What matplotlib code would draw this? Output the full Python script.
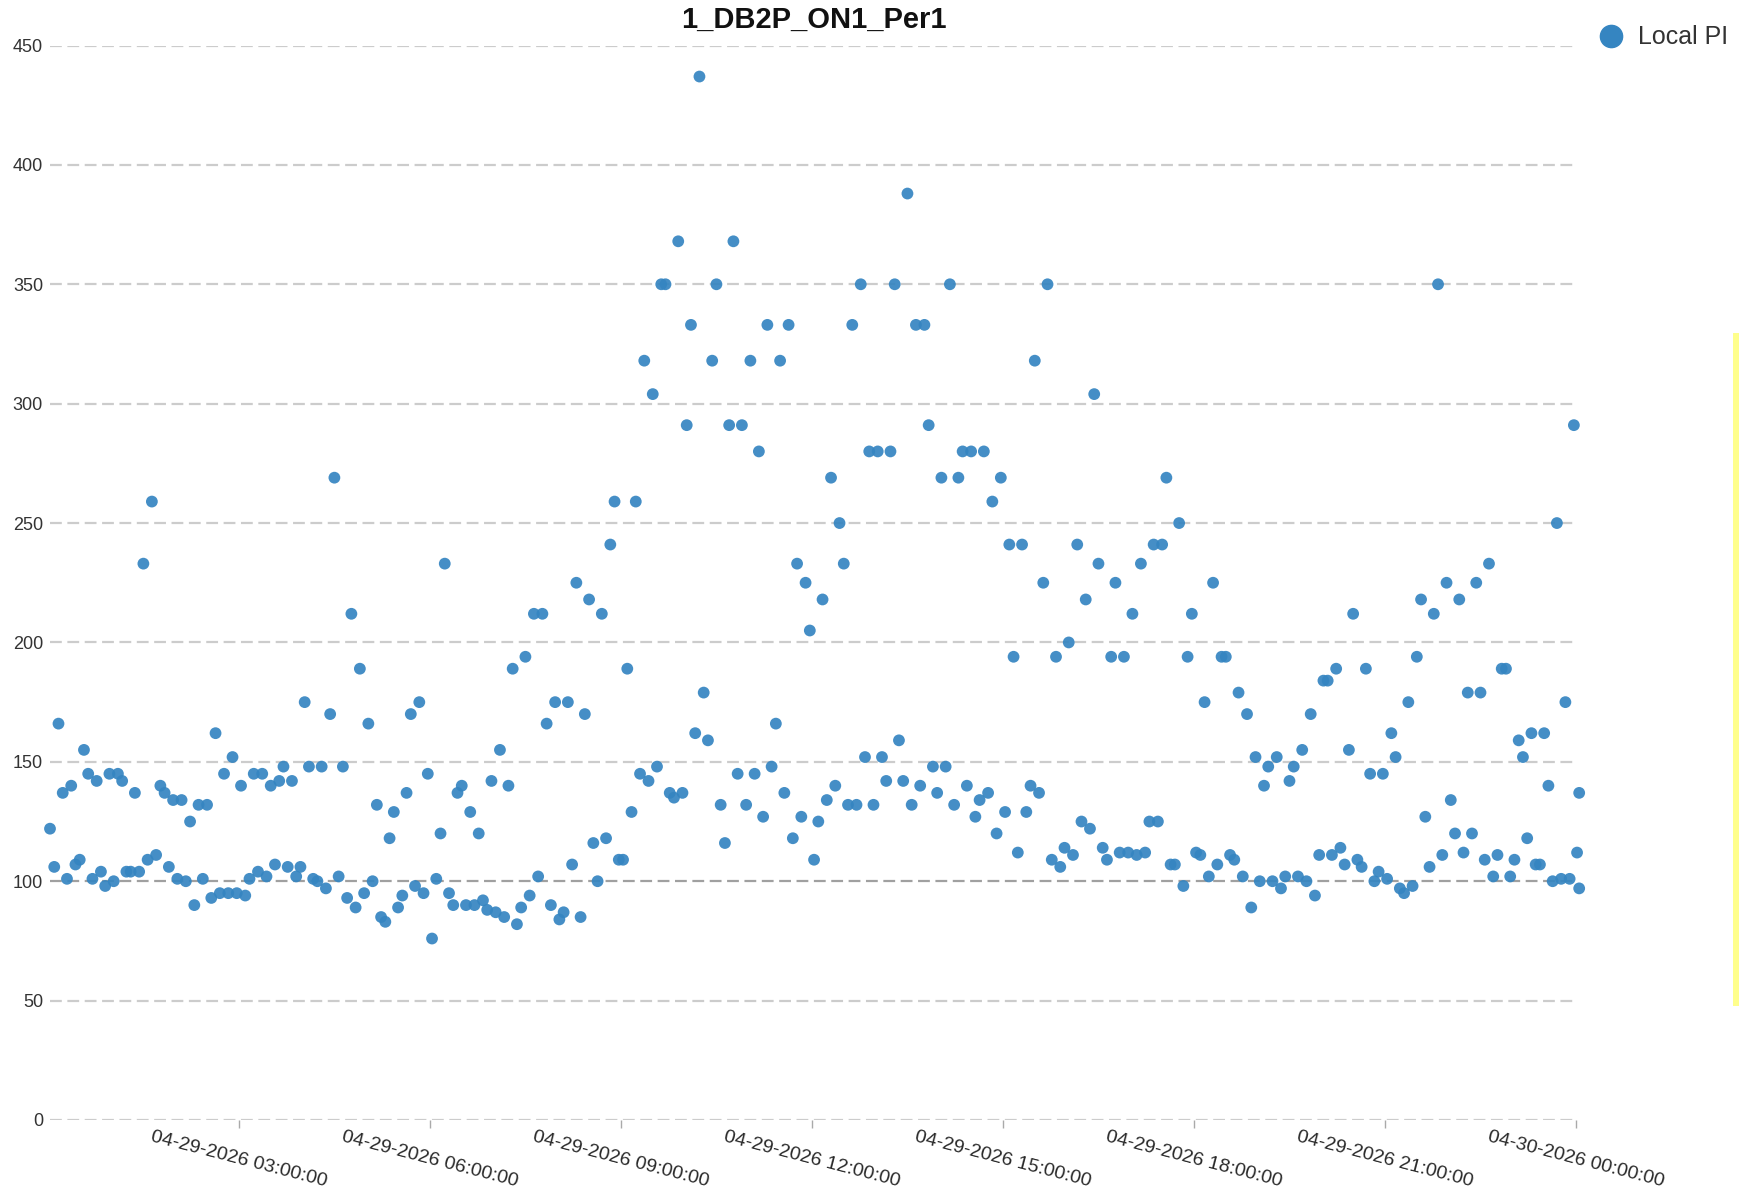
import numpy as np
import pandas as pd
import matplotlib
matplotlib.use("Agg")
import matplotlib.pyplot as plt
import matplotlib.dates as mdates
from matplotlib.lines import Line2D
from matplotlib.patches import Rectangle

plt.rcParams["font.family"] = ["Liberation Sans", "DejaVu Sans"]
plt.rcParams["lines.scale_dashes"] = False

TITLE = "1_DB2P_ON1_Per1"
SERIES_NAME = "Local PI"

# readings, one every 4 minutes through the day
local_pi = [
    122, 106, 166, 137, 101, 140, 107, 109, 155, 145, 101, 142, 104, 98, 145, 100,
    145, 142, 104, 104, 137, 104, 233, 109, 259, 111, 140, 137, 106, 134, 101, 134,
    100, 125, 90, 132, 101, 132, 93, 162, 95, 145, 95, 152, 95, 140, 94, 101,
    145, 104, 145, 102, 140, 107, 142, 148, 106, 142, 102, 106, 175, 148, 101, 100,
    148, 97, 170, 269, 102, 148, 93, 212, 89, 189, 95, 166, 100, 132, 85, 83,
    118, 129, 89, 94, 137, 170, 98, 175, 95, 145, 76, 101, 120, 233, 95, 90,
    137, 140, 90, 129, 90, 120, 92, 88, 142, 87, 155, 85, 140, 189, 82, 89,
    194, 94, 212, 102, 212, 166, 90, 175, 84, 87, 175, 107, 225, 85, 170, 218,
    116, 100, 212, 118, 241, 259, 109, 109, 189, 129, 259, 145, 318, 142, 304, 148,
    350, 350, 137, 135, 368, 137, 291, 333, 162, 437, 179, 159, 318, 350, 132, 116,
    291, 368, 145, 291, 132, 318, 145, 280, 127, 333, 148, 166, 318, 137, 333, 118,
    233, 127, 225, 205, 109, 125, 218, 134, 269, 140, 250, 233, 132, 333, 132, 350,
    152, 280, 132, 280, 152, 142, 280, 350, 159, 142, 388, 132, 333, 140, 333, 291,
    148, 137, 269, 148, 350, 132, 269, 280, 140, 280, 127, 134, 280, 137, 259, 120,
    269, 129, 241, 194, 112, 241, 129, 140, 318, 137, 225, 350, 109, 194, 106, 114,
    200, 111, 241, 125, 218, 122, 304, 233, 114, 109, 194, 225, 112, 194, 112, 212,
    111, 233, 112, 125, 241, 125, 241, 269, 107, 107, 250, 98, 194, 212, 112, 111,
    175, 102, 225, 107, 194, 194, 111, 109, 179, 102, 170, 89, 152, 100, 140, 148,
    100, 152, 97, 102, 142, 148, 102, 155, 100, 170, 94, 111, 184, 184, 111, 189,
    114, 107, 155, 212, 109, 106, 189, 145, 100, 104, 145, 101, 162, 152, 97, 95,
    175, 98, 194, 218, 127, 106, 212, 350, 111, 225, 134, 120, 218, 112, 179, 120,
    225, 179, 109, 233, 102, 111, 189, 189, 102, 109, 159, 152, 118, 162, 107, 107,
    162, 140, 100, 250, 101, 175, 101, 291, 112, 137, 97,
]

start_time = pd.Timestamp("2026-04-29 00:02:00")
end_time = pd.Timestamp("2026-04-30 00:00:00")
# regular 4-min samples, the last few readings arrive bunched at midnight
regular = pd.date_range(start_time, periods=len(local_pi) - 3, freq="4min")
tail = pd.to_datetime(["2026-04-30 00:01:00", "2026-04-30 00:03:00",
                       "2026-04-30 00:03:00"])
timestamps = regular.append(tail)

y_ticks = [0, 50, 100, 150, 200, 250, 300, 350, 400, 450]
x_ticks = pd.date_range("2026-04-29 03:00", "2026-04-30 00:00", freq="3h")

W, H = 1739, 1194
fig = plt.figure(figsize=(W / 100, H / 100), dpi=100)
fig.patch.set_facecolor("white")

left, right, top, bottom = 50, 1576, 45.5, 1120
ax = fig.add_axes([left / W, 1 - bottom / H, (right - left) / W, (bottom - top) / H])

ax.scatter(timestamps, local_pi, s=72, color="#3585c1", alpha=0.92,
           edgecolors="none", zorder=3, clip_on=False)

ax.set_ylim(0, 450)
ax.set_xlim(start_time, end_time)
ax.set_yticks(y_ticks)
ax.set_xticks(x_ticks)
ax.xaxis.set_major_formatter(mdates.DateFormatter("%m-%d-%Y %H:%M:%S"))

for s in ax.spines.values():
    s.set_visible(False)

for v in y_ticks:
    ax.axhline(v, color="#a0a0a0" if v == 100 else "#cccccc", lw=1.6,
               linestyle=(0, (8.5, 4)), zorder=1)

ax.tick_params(axis="y", length=0, pad=5, labelsize=13, labelcolor="#333333")
ax.tick_params(axis="x", length=6, width=1, color="#aaaaaa", pad=0,
               labelsize=14, labelcolor="#2a2a2a")
for lbl in ax.get_xticklabels():
    lbl.set_rotation(-14.5)
    lbl.set_ha("center")
    lbl.set_va("top")

fig.text(814 / W, 1 - 20 / H, TITLE, ha="center", va="center",
         fontsize=21, fontweight="bold", color="#111111")

# legend drawn by hand at the top right corner
fig.add_artist(Line2D([1611 / W], [1 - 36 / H], marker="o", markersize=16,
                      color="#3585c1", linestyle="none",
                      transform=fig.transFigure))
fig.text(1638 / W, 1 - 37 / H, SERIES_NAME, ha="left", va="center",
         fontsize=18, color="#333333")

# thin yellow strip along the right border
fig.add_artist(Rectangle((1733 / W, 1 - 1006 / H), 6 / W, 673 / H,
                         transform=fig.transFigure, color="#ffff8c", lw=0))

fig.savefig("out.png", dpi=100)
plt.close(fig)
